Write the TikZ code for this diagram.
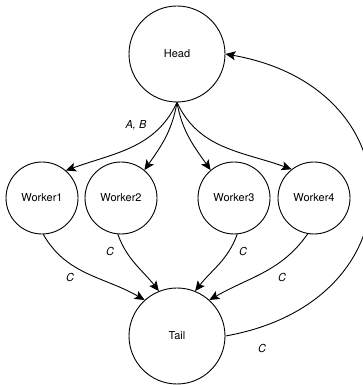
\documentclass[tikz,border=0pt]{standalone}
\usepackage{fontspec}
\setmainfont{TeX Gyre Heros}
\usetikzlibrary{arrows.meta}
\tikzset{
  bignode/.style={circle,draw,line width=0.9pt,minimum size=96pt,inner sep=0pt,font=\fontsize{11}{13}\selectfont},
  worknode/.style={bignode,minimum size=72pt},
  flow/.style={line width=0.9pt,-{Stealth[length=10pt,width=9pt,inset=2.2pt]}},
  elab/.style={font=\itshape\fontsize{11}{13}\selectfont},
}
\begin{document}
\begin{tikzpicture}[x=1pt,y=1pt]
  \useasboundingbox (0,0) rectangle (363,385);
  % nodes
  \node[bignode] (head) at (177,331) {Head};
  \node[worknode] (w1) at (42,187) {Worker1};
  \node[worknode] (w2) at (121,187) {Worker2};
  \node[worknode] (w3) at (234,187) {Worker3};
  \node[worknode] (w4) at (314,187) {Worker4};
  \node[bignode] (tail) at (177,49) {Tail};
  % head to workers
  \draw[flow] (head.-90) to[out=-115,in=20] (w1.49);
  \draw[flow] (head.-90) to[out=-100,in=55] (w2.50);
  \draw[flow] (head.-90) to[out=-80,in=125] (w3.130);
  \draw[flow] (head.-90) to[out=-65,in=160] (w4.128);
  % workers to tail
  \draw[flow] (w1.-88) to[out=-60,in=150] (tail.132);
  \draw[flow] (w2.-95) to[out=-70,in=128] (tail.112);
  \draw[flow] (w3.-85) to[out=-110,in=52] (tail.68);
  \draw[flow] (w4.-100) to[out=-125,in=30] (tail.48);
  % back to head
  \draw[flow] (tail.east) to[out=10,in=-10,looseness=1.78] (head.east);
  % labels
  \node[elab] (lab0) at (136,260) {A, B};
  \node[elab] (lab1) at (70,108) {C};
  \node[elab] (lab2) at (110,134) {C};
  \node[elab] (lab3) at (243,134) {C};
  \node[elab] (lab4) at (282,108) {C};
  \node[elab] (lab5) at (262,37) {C};
\end{tikzpicture}
\end{document}
